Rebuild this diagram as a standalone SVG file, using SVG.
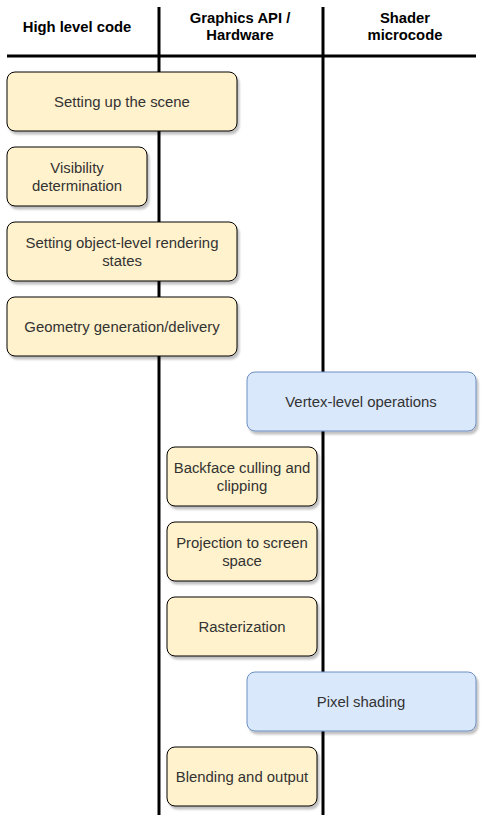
<svg xmlns="http://www.w3.org/2000/svg" width="484" height="824" viewBox="0 0 484 824">
<defs>
<filter id="sh" x="-10%" y="-10%" width="130%" height="140%">
<feGaussianBlur in="SourceAlpha" stdDeviation="1"/>
<feOffset dx="2" dy="3" result="b"/>
<feComponentTransfer><feFuncA type="linear" slope="0.25"/></feComponentTransfer>
<feMerge><feMergeNode/><feMergeNode in="SourceGraphic"/></feMerge>
</filter>
</defs>
<style>
.hdr{font-family:"Liberation Sans",Arial,sans-serif;font-size:14.8px;font-weight:bold;fill:#000;text-anchor:middle}
.lbl{font-family:"Liberation Sans",Arial,sans-serif;font-size:14.9px;fill:#333;text-anchor:middle}
.y{fill:#fff2cc;stroke:#000;stroke-width:1;filter:url(#sh)}
.b{fill:#dae8fc;stroke:#6c8ebf;stroke-width:1;filter:url(#sh)}
.ln{stroke:#000;stroke-width:3;fill:none}
</style>
<rect width="484" height="824" fill="#fff"/>
<g id="connectors">
<line class="ln" x1="7" y1="56" x2="476" y2="56"/>
<line class="ln" x1="159" y1="7" x2="159" y2="815"/>
<line class="ln" x1="323" y1="7" x2="323" y2="815"/>
</g>
<g id="headers">
<text class="hdr" x="77" y="32">High level code</text>
<text class="hdr" x="240" y="23">Graphics API /</text>
<text class="hdr" x="240" y="40">Hardware</text>
<text class="hdr" x="405" y="23">Shader</text>
<text class="hdr" x="405" y="40">microcode</text>
</g>
<g id="n1"><rect class="y" x="7" y="72" width="230" height="59" rx="8"/><text class="lbl" x="122" y="107">Setting up the scene</text></g>
<g id="n2"><rect class="y" x="7" y="147" width="140" height="59" rx="8"/><text class="lbl" x="77" y="173">Visibility</text><text class="lbl" x="77" y="191">determination</text></g>
<g id="n3"><rect class="y" x="7" y="222" width="230" height="59" rx="8"/><text class="lbl" x="122" y="248">Setting object-level rendering</text><text class="lbl" x="122" y="266">states</text></g>
<g id="n4"><rect class="y" x="7" y="297" width="230" height="59" rx="8"/><text class="lbl" x="122" y="332">Geometry generation/delivery</text></g>
<g id="n5"><rect class="b" x="247" y="372" width="229" height="59" rx="8"/><text class="lbl" x="361" y="407">Vertex-level operations</text></g>
<g id="n6"><rect class="y" x="167" y="447" width="150" height="59" rx="8"/><text class="lbl" x="242" y="473">Backface culling and</text><text class="lbl" x="242" y="491">clipping</text></g>
<g id="n7"><rect class="y" x="167" y="522" width="150" height="59" rx="8"/><text class="lbl" x="242" y="548">Projection to screen</text><text class="lbl" x="242" y="566">space</text></g>
<g id="n8"><rect class="y" x="167" y="597" width="150" height="59" rx="8"/><text class="lbl" x="242" y="632">Rasterization</text></g>
<g id="n9"><rect class="b" x="247" y="672" width="229" height="59" rx="8"/><text class="lbl" x="361" y="707">Pixel shading</text></g>
<g id="n10"><rect class="y" x="167" y="747" width="150" height="59" rx="8"/><text class="lbl" x="242" y="782">Blending and output</text></g>
</svg>
